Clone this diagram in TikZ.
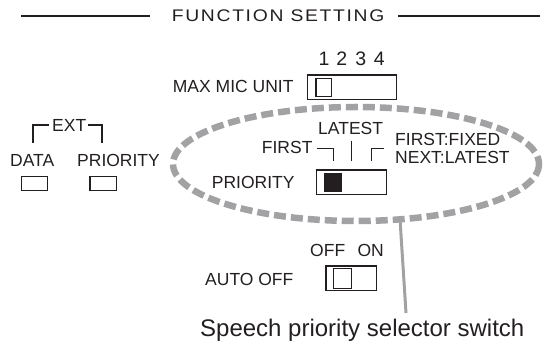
\documentclass[tikz,border=0pt]{standalone}
\usepackage{fontspec}
\setmainfont{Liberation Sans}
\newfontfamily\titlefont[FakeStretch=1.15, LetterSpace=10]{Liberation Sans}
\definecolor{ink}{HTML}{231F20}
\definecolor{ovalgray}{HTML}{A2A2A4}
\tikzset{
  lbl/.style={inner sep=0pt, anchor=base west, text=ink, font=\fontsize{17.5}{20}\selectfont},
  digit/.style={inner sep=0pt, anchor=base, text=ink, font=\fontsize{19.5}{22}\selectfont},
  swbox/.style={draw=ink, line width=1.2pt},
  bracket/.style={draw=ink, line width=1.3pt},
  oval/.style={draw=ovalgray, line width=6.5pt, dash pattern=on 12pt off 5pt},
  pointer/.style={draw=ovalgray, line width=3pt}
}
\begin{document}
\begin{tikzpicture}[x=1pt,y=-1pt]
\useasboundingbox (0,0) rectangle (545,344);

% title
\node[lbl, font=\titlefont\fontsize{16.8}{20}\selectfont] (title) at (171.7,21.7) {FUNCTION SETTING};
\coordinate (tl1) at (21,16);
\coordinate (tl2) at (150,16);
\coordinate (tr1) at (398,16);
\coordinate (tr2) at (540,16);
\draw[ink, line width=1.5pt] (tl1) -- (tl2);
\draw[ink, line width=1.5pt] (tr1) -- (tr2);

% oval
\draw[oval] (356,164) ellipse [x radius=183, y radius=57];
\coordinate (ovbot) at (400,219);

% max mic unit
\node[digit] (d1) at (324,66) {1};
\node[digit] (d2) at (341.7,66) {2};
\node[digit] (d3) at (360.7,66) {3};
\node[digit] (d4) at (379.3,66) {4};
\node[lbl] (maxmic) at (172.7,93) {MAX MIC UNIT};
\draw[swbox] (307.3,75) rectangle (396.7,99.3);
\draw[swbox] (316,78.3) rectangle (331.7,96.7);

% EXT
\node[lbl] (ext) at (52,131.7) {EXT};
\draw[bracket] (33,143) -- (33,125) -- (49,125);
\draw[bracket] (88,125) -- (102,125) -- (102,143);
\node[lbl] (data) at (10,166.7) {DATA};
\node[lbl] (extprio) at (77,166.7) {PRIORITY};
\draw[swbox] (21.7,176.7) rectangle (47.3,190.7);
\draw[swbox] (90,176.7) rectangle (116.7,190.7);

% priority
\node[lbl] (latest) at (318,135) {LATEST};
\node[lbl] (first) at (261.7,154) {FIRST};
\node[lbl] (ffixed) at (395,146) {FIRST:FIXED};
\node[lbl] (nlatest) at (395,163.3) {NEXT:LATEST};
\draw[bracket] (316.7,148.3) -- (333.3,148.3) -- (333.3,160.7);
\draw[bracket] (351.7,140.7) -- (351.7,160.7);
\draw[bracket] (371.7,160.7) -- (371.7,148.3) -- (384,148.3);
\node[lbl] (prio) at (211.7,188.5) {PRIORITY};
\draw[swbox] (316.7,170) rectangle (386.7,194.5);
\fill[ink] (324,173.3) rectangle (341.7,191.7);

% auto off
\node[lbl] (off) at (310,256.7) {OFF};
\node[lbl] (on) at (357.3,256.7) {ON};
\node[lbl] (autooff) at (205,285) {AUTO OFF};
\draw[swbox] (326,266) rectangle (376.7,290.7);
\draw[swbox] (333.3,268.3) rectangle (351.7,288.3);

% caption and pointer
\node[lbl, font=\fontsize{24}{28}\selectfont] (speech) at (200,336.5) {Speech priority selector switch};
\coordinate (ptrend) at (406,313);
\draw[pointer] (ovbot) -- (ptrend);
\end{tikzpicture}
\end{document}
